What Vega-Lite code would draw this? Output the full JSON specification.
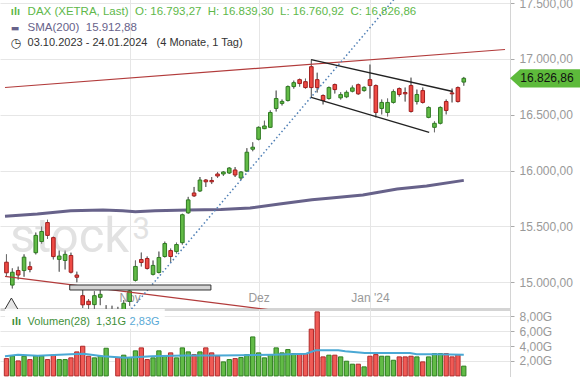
{
"$schema": "https://vega.github.io/schema/vega-lite/v6.json",
"padding": {"left": 0, "top": -3, "right": 0, "bottom": 0},
"background": "#ffffff",
"spacing": 0,
"config": {
  "view": {"stroke": null},
  "locale": {"number": {"decimal": ",", "thousands": ".", "grouping": [3], "currency": ["", " €"]}},
  "axis": {"labelFont": "Liberation Sans"},
  "text": {"font": "Liberation Sans"}
},
"resolve": {"scale": {"x": "independent", "y": "independent"}},
"datasets": {
  "candles": [
    {"i":0,"o":15180,"h":15250,"l":15055,"c":15085,"vol":2.32},
    {"i":1,"o":14975,"h":15125,"l":14945,"c":15090,"vol":2.68},
    {"i":2,"o":15105,"h":15140,"l":15025,"c":15065,"vol":2.01},
    {"i":3,"o":15105,"h":15250,"l":15050,"c":15225,"vol":2.64},
    {"i":4,"o":15140,"h":15185,"l":15090,"c":15115,"vol":2.19},
    {"i":5,"o":15265,"h":15445,"l":15250,"c":15420,"vol":2.68},
    {"i":6,"o":15365,"h":15500,"l":15345,"c":15455,"vol":2.68},
    {"i":7,"o":15535,"h":15560,"l":15390,"c":15420,"vol":2.19},
    {"i":8,"o":15400,"h":15410,"l":15205,"c":15230,"vol":2.78},
    {"i":9,"o":15205,"h":15285,"l":15095,"c":15235,"vol":2.19},
    {"i":10,"o":15195,"h":15285,"l":15115,"c":15250,"vol":2.19},
    {"i":11,"o":15240,"h":15265,"l":15080,"c":15090,"vol":2.42},
    {"i":12,"o":15065,"h":15095,"l":15000,"c":15045,"vol":3.22},
    {"i":13,"o":14880,"h":14950,"l":14770,"c":14798,"vol":3.98},
    {"i":14,"o":14830,"h":14850,"l":14700,"c":14800,"vol":2.64},
    {"i":15,"o":14800,"h":14920,"l":14760,"c":14880,"vol":2.42},
    {"i":16,"o":14865,"h":14930,"l":14795,"c":14892,"vol":2.68},
    {"i":17,"o":14700,"h":14795,"l":14660,"c":14731,"vol":3.71},
    {"i":18,"o":14740,"h":14790,"l":14630,"c":14687,"vol":null},
    {"i":19,"o":14730,"h":14780,"l":14650,"c":14716,"vol":2.46},
    {"i":20,"o":14700,"h":14840,"l":14660,"c":14812,"vol":2.78},
    {"i":21,"o":14828,"h":14935,"l":14790,"c":14923,"vol":2.46},
    {"i":22,"o":15017,"h":15195,"l":15008,"c":15142,"vol":3.36},
    {"i":23,"o":15204,"h":15266,"l":15142,"c":15177,"vol":3.76},
    {"i":24,"o":15213,"h":15231,"l":15115,"c":15124,"vol":2.19},
    {"i":25,"o":15071,"h":15195,"l":15062,"c":15151,"vol":2.42},
    {"i":26,"o":15088,"h":15275,"l":15080,"c":15222,"vol":3.36},
    {"i":27,"o":15231,"h":15364,"l":15222,"c":15347,"vol":2.68},
    {"i":28,"o":15284,"h":15302,"l":15177,"c":15231,"vol":3.09},
    {"i":29,"o":15275,"h":15355,"l":15258,"c":15338,"vol":2.42},
    {"i":30,"o":15355,"h":15614,"l":15338,"c":15605,"vol":3.76},
    {"i":31,"o":15622,"h":15765,"l":15614,"c":15738,"vol":3.22},
    {"i":32,"o":15800,"h":15854,"l":15765,"c":15774,"vol":2.86},
    {"i":33,"o":15818,"h":15943,"l":15809,"c":15916,"vol":3.22},
    {"i":34,"o":15916,"h":15925,"l":15854,"c":15900,"vol":3.76},
    {"i":35,"o":15912,"h":15943,"l":15880,"c":15900,"vol":3.09},
    {"i":36,"o":15970,"h":15988,"l":15934,"c":15952,"vol":2.68},
    {"i":37,"o":15970,"h":15996,"l":15952,"c":15988,"vol":1.88},
    {"i":38,"o":15979,"h":16032,"l":15970,"c":16023,"vol":2.19},
    {"i":39,"o":16006,"h":16032,"l":15943,"c":15961,"vol":2.32},
    {"i":40,"o":15934,"h":15996,"l":15916,"c":15988,"vol":2.46},
    {"i":41,"o":15996,"h":16201,"l":15990,"c":16165,"vol":2.86},
    {"i":42,"o":16192,"h":16254,"l":16174,"c":16210,"vol":5.23},
    {"i":43,"o":16281,"h":16395,"l":16272,"c":16388,"vol":3.09},
    {"i":44,"o":16376,"h":16447,"l":16372,"c":16400,"vol":2.42},
    {"i":45,"o":16388,"h":16539,"l":16385,"c":16521,"vol":2.86},
    {"i":46,"o":16557,"h":16717,"l":16530,"c":16646,"vol":3.76},
    {"i":47,"o":16602,"h":16637,"l":16584,"c":16620,"vol":3.09},
    {"i":48,"o":16628,"h":16762,"l":16620,"c":16753,"vol":3.53},
    {"i":49,"o":16753,"h":16806,"l":16735,"c":16788,"vol":3.0},
    {"i":50,"o":16815,"h":16824,"l":16753,"c":16780,"vol":3.0},
    {"i":51,"o":16797,"h":16824,"l":16735,"c":16744,"vol":3.0},
    {"i":52,"o":16931,"h":16994,"l":16655,"c":16744,"vol":6.27},
    {"i":53,"o":16815,"h":16877,"l":16700,"c":16744,"vol":8.59},
    {"i":54,"o":16673,"h":16682,"l":16593,"c":16628,"vol":2.55},
    {"i":55,"o":16646,"h":16753,"l":16637,"c":16744,"vol":2.78},
    {"i":56,"o":16771,"h":16779,"l":16691,"c":16726,"vol":2.78},
    {"i":57,"o":16652,"h":16702,"l":16637,"c":16681,"vol":2.55},
    {"i":58,"o":16661,"h":16717,"l":16650,"c":16702,"vol":1.97},
    {"i":59,"o":16711,"h":16762,"l":16702,"c":16741,"vol":1.57},
    {"i":60,"o":16770,"h":16779,"l":16679,"c":16688,"vol":1.57},
    {"i":61,"o":16717,"h":16755,"l":16708,"c":16746,"vol":1.21},
    {"i":62,"o":16815,"h":16950,"l":16646,"c":16762,"vol":2.64},
    {"i":63,"o":16762,"h":16771,"l":16477,"c":16521,"vol":2.86},
    {"i":64,"o":16557,"h":16637,"l":16504,"c":16611,"vol":2.64},
    {"i":65,"o":16521,"h":16646,"l":16486,"c":16611,"vol":2.64},
    {"i":66,"o":16611,"h":16726,"l":16602,"c":16708,"vol":2.1},
    {"i":67,"o":16735,"h":16744,"l":16664,"c":16682,"vol":2.55},
    {"i":68,"o":16700,"h":16744,"l":16619,"c":16688,"vol":2.55},
    {"i":69,"o":16762,"h":16833,"l":16521,"c":16530,"vol":2.64},
    {"i":70,"o":16619,"h":16726,"l":16593,"c":16682,"vol":2.55},
    {"i":71,"o":16717,"h":16744,"l":16602,"c":16611,"vol":1.88},
    {"i":72,"o":16477,"h":16575,"l":16470,"c":16566,"vol":2.55},
    {"i":73,"o":16388,"h":16441,"l":16344,"c":16424,"vol":3.0},
    {"i":74,"o":16424,"h":16575,"l":16415,"c":16566,"vol":3.0},
    {"i":75,"o":16619,"h":16637,"l":16504,"c":16539,"vol":3.0},
    {"i":76,"o":16696,"h":16735,"l":16611,"c":16688,"vol":2.55},
    {"i":77,"o":16744,"h":16753,"l":16611,"c":16619,"vol":2.86},
    {"i":78,"o":16793.27,"h":16839.30,"l":16760.92,"c":16826.86,"vol":1.31}
  ],
  "sma": [
    {"i":-0.25,"v":15591},{"i":5.27,"v":15612},{"i":10.95,"v":15641},{"i":16.47,"v":15647},
    {"i":19.82,"v":15641},{"i":21.99,"v":15632},{"i":25.33,"v":15641},{"i":31.02,"v":15647},
    {"i":36.54,"v":15652},{"i":41.56,"v":15665},{"i":46.57,"v":15701},{"i":52.09,"v":15740},
    {"i":54.93,"v":15752},{"i":60.79,"v":15782},{"i":66.64,"v":15836},{"i":71.66,"v":15862},
    {"i":78,"v":15912.88}
  ],
  "volma": [
    {"i":-0.25,"v":2.63},{"i":1.97,"v":2.85},{"i":5.32,"v":2.69},{"i":10.9,"v":2.9},
    {"i":13.13,"v":2.98},{"i":16.47,"v":2.63},{"i":20.32,"v":2.44},{"i":24.83,"v":2.63},
    {"i":30.35,"v":2.72},{"i":36.04,"v":2.72},{"i":39.88,"v":2.76},{"i":45.4,"v":2.85},
    {"i":51.09,"v":2.98},{"i":52.76,"v":3.43},{"i":56.6,"v":3.43},{"i":57.78,"v":3.3},
    {"i":61.12,"v":3.07},{"i":68.81,"v":3.07},{"i":69.98,"v":2.9},{"i":73.33,"v":2.9},
    {"i":78,"v":2.83}
  ]
},
"vconcat": [
  {
    "width": 510,
    "height": 310,
    "layer": [
      {
        "data": {"name": "candles"},
        "mark": {"type": "rule", "color": "#6e6e6e", "strokeWidth": 1, "clip": true},
        "encoding": {
          "x": {"field": "i", "type": "quantitative", "title": null,
                "scale": {"domain": [-0.25, 85.03], "nice": false, "zero": false},
                "axis": {"values": [21, 43, 62], "labelExpr": "datum.value == 21 ? 'Nov' : datum.value == 43 ? 'Dez' : \"Jan '24\"",
                         "grid": true, "gridColor": "#e6e6e6", "ticks": false, "domain": true, "domainColor": "#d4d4d4", "domainWidth": 3,
                         "labelColor": "#999999", "labelFontSize": 12, "labelPadding": -17, "labelOverlap": false, "title": null}},
          "y": {"field": "l", "type": "quantitative", "title": null,
                "scale": {"domain": [14760.7, 17537.4], "nice": false, "zero": false},
                "axis": {"orient": "right", "values": [15000, 15500, 16000, 16500, 17000, 17500], "format": ",.2f",
                         "grid": true, "gridColor": "#e6e6e6", "tickSize": 4, "tickColor": "#aaaaaa", "domain": true, "domainColor": "#d4d4d4",
                         "labelColor": "#999999", "labelFontSize": 12, "labelPadding": 5, "labelOverlap": false, "title": null}},
          "y2": {"field": "h"}
        }
      },
      {
        "data": {"values": [{"t": "stock"}]},
        "mark": {"type": "text", "align": "left", "baseline": "alphabetic", "font": "Roboto", "fontSize": 49, "color": "#e2e2e2"},
        "encoding": {
          "x": {"datum": 0.59, "type": "quantitative"},
          "y": {"datum": 15268.6, "type": "quantitative"},
          "text": {"field": "t"}
        }
      },
      {
        "data": {"values": [{"t": "3"}]},
        "mark": {"type": "text", "align": "left", "baseline": "alphabetic", "font": "Roboto", "fontSize": 31, "color": "#e2e2e2"},
        "encoding": {
          "x": {"datum": 21.49, "type": "quantitative"},
          "y": {"datum": 15387.7, "type": "quantitative"},
          "text": {"field": "t"}
        }
      },
      {
        "data": {"name": "sma"},
        "mark": {"type": "line", "color": "#67628a", "strokeWidth": 3, "clip": true},
        "encoding": {
          "x": {"field": "i", "type": "quantitative", "title": null},
          "y": {"field": "v", "type": "quantitative", "title": null}
        }
      },
      {
        "data": {"name": "candles"},
        "mark": {"type": "rule", "color": "#6e6e6e", "strokeWidth": 1, "clip": true},
        "encoding": {
          "x": {"field": "i", "type": "quantitative", "title": null},
          "y": {"field": "l", "type": "quantitative", "title": null},
          "y2": {"field": "h"}
        }
      },
      {
        "data": {"name": "candles"},
        "mark": {"type": "bar", "size": 3.6, "strokeWidth": 1, "clip": true},
        "encoding": {
          "x": {"field": "i", "type": "quantitative", "title": null},
          "y": {"field": "o", "type": "quantitative", "title": null},
          "y2": {"field": "c"},
          "fill": {"condition": {"test": "datum.c >= datum.o", "value": "#62bb46"}, "value": "#ee4a44"},
          "stroke": {"condition": {"test": "datum.c >= datum.o", "value": "#2f7a22"}, "value": "#a11e1e"}
        }
      },
      {
        "data": {"values": [
          {"seg": "a", "i": -0.25, "v": 16744.7}, {"seg": "a", "i": 85.03, "v": 17085},
          {"seg": "b", "i": -0.25, "v": 15053.6}, {"seg": "b", "i": 54.9, "v": 14687}
        ]},
        "mark": {"type": "line", "color": "#b23b3b", "strokeWidth": 1.2, "clip": true},
        "encoding": {
          "x": {"field": "i", "type": "quantitative", "title": null},
          "y": {"field": "v", "type": "quantitative", "title": null},
          "detail": {"field": "seg"}
        }
      },
      {
        "data": {"values": [{"i": 20, "v": 14679}, {"i": 68, "v": 17652}]},
        "mark": {"type": "line", "color": "#4f7fb5", "strokeWidth": 1.5, "strokeDash": [1.5, 2.5], "clip": true},
        "encoding": {
          "x": {"field": "i", "type": "quantitative", "title": null},
          "y": {"field": "v", "type": "quantitative", "title": null}
        }
      },
      {
        "data": {"values": [
          {"seg": "u", "i": 51.97, "v": 16993.7}, {"seg": "u", "i": 76.12, "v": 16708.9},
          {"seg": "l", "i": 51.97, "v": 16657}, {"seg": "l", "i": 72.1, "v": 16343}
        ]},
        "mark": {"type": "line", "color": "#222222", "strokeWidth": 1.3, "clip": true},
        "encoding": {
          "x": {"field": "i", "type": "quantitative", "title": null},
          "y": {"field": "v", "type": "quantitative", "title": null},
          "detail": {"field": "seg"}
        }
      },
      {
        "data": {"values": [{"i": 10.79, "i2": 34.87, "v": 14975.7, "v2": 14931}]},
        "mark": {"type": "rect", "fill": "#d4d4d4", "stroke": "#333333", "strokeWidth": 1, "clip": true},
        "encoding": {
          "x": {"field": "i", "type": "quantitative", "title": null},
          "x2": {"field": "i2"},
          "y": {"field": "v", "type": "quantitative", "title": null},
          "y2": {"field": "v2"}
        }
      },
      {
        "data": {"values": [{"i": 0.84, "v": 14797}]},
        "mark": {"type": "point", "shape": "triangle-up", "size": 256, "filled": true, "fill": "#e6e6e6", "stroke": "#333333", "strokeWidth": 1, "opacity": 1, "clip": true},
        "encoding": {
          "x": {"field": "i", "type": "quantitative", "title": null},
          "y": {"field": "v", "type": "quantitative", "title": null}
        }
      },
      {
        "data": {"values": [{"t": "ılı"}]},
        "mark": {"type": "text", "align": "left", "baseline": "middle", "fontSize": 11, "fontWeight": "bold", "color": "#5eb84a"},
        "encoding": {
          "x": {"datum": 0.75, "type": "quantitative"},
          "y": {"datum": 17421, "type": "quantitative"},
          "text": {"field": "t"}
        }
      },
      {
        "data": {"values": [{"t": "DAX (XETRA, Last)\u00a0\u00a0O: 16.793,27\u00a0\u00a0H: 16.839,30\u00a0\u00a0L: 16.760,92\u00a0\u00a0C: 16.826,86"}]},
        "mark": {"type": "text", "align": "left", "baseline": "middle", "fontSize": 11.5, "color": "#5eb84a"},
        "encoding": {
          "x": {"datum": 3.6, "type": "quantitative"},
          "y": {"datum": 17421, "type": "quantitative"},
          "text": {"field": "t"}
        }
      },
      {
        "data": {"values": [{"t": "▬"}]},
        "mark": {"type": "text", "align": "left", "baseline": "middle", "font": "DejaVu Sans", "fontSize": 9, "color": "#67628a"},
        "encoding": {
          "x": {"datum": 0.75, "type": "quantitative"},
          "y": {"datum": 17277.6, "type": "quantitative"},
          "text": {"field": "t"}
        }
      },
      {
        "data": {"values": [{"t": "SMA(200)\u00a0\u00a015.912,88"}]},
        "mark": {"type": "text", "align": "left", "baseline": "middle", "fontSize": 11.5, "color": "#67628a"},
        "encoding": {
          "x": {"datum": 3.6, "type": "quantitative"},
          "y": {"datum": 17277.6, "type": "quantitative"},
          "text": {"field": "t"}
        }
      },
      {
        "data": {"values": [{"t": "◷"}]},
        "mark": {"type": "text", "align": "left", "baseline": "middle", "font": "DejaVu Sans", "fontSize": 12, "color": "#333333"},
        "encoding": {
          "x": {"datum": 0.7, "type": "quantitative"},
          "y": {"datum": 17143, "type": "quantitative"},
          "text": {"field": "t"}
        }
      },
      {
        "data": {"values": [{"t": "03.10.2023 - 24.01.2024\u00a0\u00a0\u00a0(4 Monate, 1 Tag)"}]},
        "mark": {"type": "text", "align": "left", "baseline": "middle", "fontSize": 11, "color": "#333333"},
        "encoding": {
          "x": {"datum": 3.6, "type": "quantitative"},
          "y": {"datum": 17143, "type": "quantitative"},
          "text": {"field": "t"}
        }
      },
      {
        "data": {"values": [{"v": 16826.86}]},
        "mark": {"type": "point", "shape": "M0,0L0.29,-0.26L2,-0.26L2,0.26L0.29,0.26Z", "size": 4900, "filled": true, "color": "#5dba3b", "opacity": 1, "strokeWidth": 0},
        "encoding": {
          "x": {"value": "width"},
          "y": {"field": "v", "type": "quantitative", "title": null}
        }
      },
      {
        "data": {"values": [{"v": 16826.86}]},
        "mark": {"type": "text", "align": "center", "baseline": "middle", "dx": 37, "fontSize": 12, "color": "#111111"},
        "encoding": {
          "x": {"value": "width"},
          "y": {"field": "v", "type": "quantitative", "title": null},
          "text": {"field": "v", "format": ",.2f"}
        }
      }
    ]
  },
  {
    "width": 510,
    "height": 68,
    "resolve": {"axis": {"x": "independent", "y": "independent"}},
    "layer": [
      {
        "data": {"name": "candles"},
        "mark": {"type": "bar", "size": 4.3, "strokeWidth": 1, "clip": true},
        "encoding": {
          "x": {"field": "i", "type": "quantitative", "title": null,
                "scale": {"domain": [-0.25, 85.03], "nice": false, "zero": false},
                "axis": {"values": [21, 43, 62], "labels": false, "ticks": false, "domain": false, "grid": true, "gridColor": "#e6e6e6", "title": null}},
          "y": {"field": "vol", "type": "quantitative", "title": null,
                "scale": {"domain": [-0.15, 8.98], "nice": false, "zero": false},
                "axis": {"orient": "right", "values": [2, 4, 6, 8], "labelExpr": "format(datum.value, '.2f') + 'G'",
                         "grid": true, "gridColor": "#e6e6e6", "tickSize": 4, "tickColor": "#aaaaaa", "domain": true, "domainColor": "#d4d4d4",
                         "labelColor": "#999999", "labelFontSize": 12, "labelPadding": 5, "labelOverlap": false, "labelBound": false, "title": null}},
          "y2": {"datum": 0},
          "fill": {"condition": {"test": "datum.c >= datum.o", "value": "#62bb46"}, "value": "#f05a55"},
          "stroke": {"condition": {"test": "datum.c >= datum.o", "value": "#2f7f20"}, "value": "#b02a2a"}
        }
      },
      {
        "data": {"name": "volma"},
        "mark": {"type": "line", "color": "#4aa8d4", "strokeWidth": 2, "clip": true},
        "encoding": {
          "x": {"field": "i", "type": "quantitative", "axis": null},
          "y": {"field": "v", "type": "quantitative", "axis": null}
        }
      },
      {
        "data": {"values": [{"t": "box"}]},
        "mark": {"type": "rect", "fill": "#ffffff", "opacity": 0.9, "clip": true},
        "encoding": {
          "x": {"datum": -0.25, "type": "quantitative", "axis": null},
          "x2": {"datum": 27},
          "y": {"datum": 6.3, "type": "quantitative", "axis": null},
          "y2": {"datum": 8.98}
        }
      },
      {
        "data": {"values": [{"t": "ılı"}]},
        "mark": {"type": "text", "align": "left", "baseline": "middle", "fontSize": 11, "fontWeight": "bold", "color": "#3f8f3a"},
        "encoding": {
          "x": {"datum": 0.92, "type": "quantitative", "axis": null},
          "y": {"datum": 7.23, "type": "quantitative", "axis": null},
          "text": {"field": "t"}
        }
      },
      {
        "data": {"values": [{"t": "Volumen(28)\u00a0\u00a01,31G"}]},
        "mark": {"type": "text", "align": "left", "baseline": "middle", "fontSize": 11, "color": "#3f8f3a"},
        "encoding": {
          "x": {"datum": 3.6, "type": "quantitative", "axis": null},
          "y": {"datum": 7.23, "type": "quantitative", "axis": null},
          "text": {"field": "t"}
        }
      },
      {
        "data": {"values": [{"t": "2,83G"}]},
        "mark": {"type": "text", "align": "left", "baseline": "middle", "fontSize": 11, "color": "#5aaad6"},
        "encoding": {
          "x": {"datum": 21.0, "type": "quantitative", "axis": null},
          "y": {"datum": 7.23, "type": "quantitative", "axis": null},
          "text": {"field": "t"}
        }
      }
    ]
  }
]
}
